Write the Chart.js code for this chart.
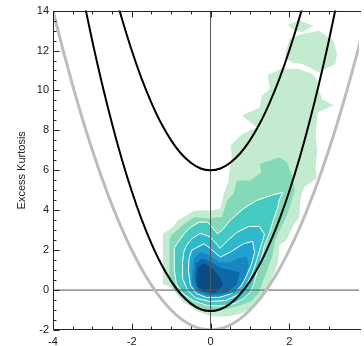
<!DOCTYPE html>
<html><head><meta charset="utf-8">
<script src="https://cdn.jsdelivr.net/npm/chart.js@4.4.0/dist/chart.umd.min.js"></script>
<style>html,body{margin:0;padding:0;background:#fff;}canvas{display:block;}</style>
</head><body>
<canvas id="c" width="364" height="346"></canvas>
<script>
// ---- axes / ticks ----
const xMajorTicks = [-4, -2, 0, 2];
const yMajorTicks = [-2, 0, 2, 4, 6, 8, 10, 12, 14];
const minorStep = 0.5;

// ---- reference curves ----
const grayX = [-4,-3.75,-3.5,-3.25,-3,-2.75,-2.5,-2.25,-2,-1.75,-1.5,-1.25,-1,-0.75,-0.5,-0.25,0,0.25,0.5,0.75,1,1.25,1.5,1.75,2,2.25,2.5,2.75,3,3.25,3.5,3.75,4];
const grayY = [14,12.06,10.25,8.56,7,5.56,4.25,3.06,2,1.06,0.25,-0.44,-1,-1.44,-1.75,-1.94,-2,-1.94,-1.75,-1.44,-1,-0.44,0.25,1.06,2,3.06,4.25,5.56,7,8.56,10.25,12.06,14];
const innerX = [-3.25,-3,-2.75,-2.5,-2.25,-2,-1.75,-1.5,-1.25,-1,-0.75,-0.5,-0.25,0,0.25,0.5,0.75,1,1.25,1.5,1.75,2,2.25,2.5,2.75,3,3.25];
const innerY = [14.8,12.45,10.3,8.33,6.54,4.95,3.54,2.33,1.29,0.45,-0.21,-0.68,-0.96,-1.05,-0.96,-0.68,-0.21,0.45,1.29,2.33,3.54,4.95,6.54,8.33,10.3,12.45,14.8];
const outerX = [-2.5,-2.25,-2,-1.75,-1.5,-1.25,-1,-0.75,-0.5,-0.25,0,0.25,0.5,0.75,1,1.25,1.5,1.75,2,2.25,2.5];
const outerY = [15.38,13.59,12,10.59,9.38,8.34,7.5,6.84,6.38,6.09,6,6.09,6.38,6.84,7.5,8.34,9.38,10.59,12,13.59,15.38];
const zeroV = [[0,-2],[0,14]];
const zeroH = [[-4,0],[3.8,0]];

// ---- density contours (polygons) ----
const lvl1a = [[1.97,13.29],[2.25,13.52],[2.6,13.24],[2.34,12.93],[2.08,13.07]];
const lvl1b = [[1.90,11.82],[2.0,12.57],[2.25,12.79],[2.75,12.99],[3.125,12.49],[3.21,11.82],[3.17,11.32],[2.75,10.9],[2.335,11.32],[2.085,11.4],[1.90,11.65]];
const lvl1c = [[1.46,10.79],[1.79,11.07],[2.25,11.07],[2.585,10.82],[2.71,10.49],[2.75,9.99],[2.835,9.57],[3.12,9.26],[2.72,8.89],[2.67,7.84],[2.705,6.99],[2.67,6.14],[2.69,5.59],[2.385,5.17],[2.29,4.65],[2.25,3.65],[2.125,3.32],[1.92,2.49],[1.75,2.24],[1.71,1.32],[1.59,0.74],[1.47,0.09],[1.29,-0.47],[1.07,-0.87],[0.79,-1.17],[0.42,-1.32],[0.04,-1.32],[-0.33,-1.07],[-0.71,-0.57],[-1.0,0.14],[-1.21,0.29],[-1.21,2.84],[-0.96,3.15],[-0.83,3.49],[-0.415,3.99],[0.0,3.99],[0.25,4.07],[0.335,4.82],[0.46,5.49],[0.47,5.84],[0.54,6.64],[0.51,7.24],[0.80,7.82],[1.175,8.15],[0.80,8.74],[1.25,9.15],[1.30,9.74],[1.51,10.07],[1.47,10.57]];
const lvl2 = [[1.25,6.32],[1.76,6.65],[1.94,6.39],[2.085,5.65],[2.14,4.99],[2.085,4.65],[2.04,4.32],[1.92,3.65],[1.75,2.99],[1.64,2.49],[1.57,1.69],[1.44,0.99],[1.32,0.39],[1.22,-0.17],[1.02,-0.57],[0.67,-0.82],[0.29,-0.99],[-0.08,-0.99],[-0.46,-0.74],[-0.76,-0.34],[-0.96,0.11],[-1.045,0.49],[-1.045,2.49],[-1.0,2.74],[-0.665,3.32],[-0.415,3.65],[0.0,3.57],[0.125,3.65],[0.29,3.65],[0.42,4.49],[0.585,4.82],[0.67,5.49],[1.0,5.49],[1.29,5.9]];
const lvl3 = [[1.835,4.90],[1.74,4.49],[1.71,4.15],[1.59,3.49],[1.5,2.89],[1.37,2.24],[1.29,1.59],[1.19,0.99],[1.12,0.44],[1.02,-0.07],[0.84,-0.42],[0.62,-0.67],[0.29,-0.79],[-0.08,-0.77],[-0.43,-0.54],[-0.71,-0.17],[-0.87,0.34],[-0.92,0.99],[-0.92,2.13],[-0.67,2.82],[-0.5,3.15],[-0.29,3.4],[-0.08,3.4],[0.04,3.15],[0.17,2.82],[0.29,2.99],[0.5,3.49],[0.83,4.07],[1.17,4.49],[1.54,4.74]];
const lvl4 = [[-0.71,1.39],[-0.68,1.89],[-0.61,2.24],[-0.46,2.59],[-0.26,2.84],[-0.04,2.69],[0.12,2.39],[0.24,2.09],[0.44,2.49],[0.67,2.89],[0.97,3.19],[1.24,3.19],[1.37,2.79],[1.27,2.14],[1.17,1.49],[1.07,0.89],[0.92,0.29],[0.77,-0.17],[0.39,-0.52],[-0.03,-0.57],[-0.38,-0.39],[-0.58,-0.02],[-0.70,0.54]];
const lvl5 = [[-0.56,0.99],[-0.545,1.59],[-0.48,1.99],[-0.33,2.15],[-0.165,2.32],[0,2.07],[0.25,1.65],[0.5,1.9],[0.835,2.32],[1.07,2.44],[1.12,1.89],[1.04,1.29],[0.92,0.74],[0.77,0.19],[0.54,-0.17],[0.22,-0.37],[-0.11,-0.37],[-0.36,-0.17],[-0.51,0.24]];
const lvl6 = [[-0.46,0.99],[-0.41,1.59],[-0.26,1.89],[-0.03,1.74],[0.22,1.39],[0.47,1.39],[0.72,1.59],[0.92,1.69],[0.97,1.19],[0.84,0.49],[0.62,-0.12],[0.29,-0.27],[-0.08,-0.27],[-0.36,-0.07],[-0.48,0.34]];
const lvl7 = [[-0.41,0.74],[-0.36,1.34],[-0.21,1.59],[0.02,1.39],[0.27,1.09],[0.54,0.99],[0.74,0.89],[0.67,0.29],[0.42,-0.12],[0.04,-0.22],[-0.26,-0.07],[-0.38,0.24]];
const lvl8 = [[-0.36,0.59],[-0.31,1.14],[-0.16,1.34],[0.04,1.09],[0.22,0.69],[0.32,0.24],[0.12,-0.12],[-0.18,-0.07],[-0.33,0.19]];

const levelColors = ['#c3ebcf','#84d9b9','#45c9c0','#2fbacb','#22a0d0','#1687c2','#0f69a6','#0a4c88'];

const xy = (xs, ys) => xs.map((v, i) => ({x: v, y: ys[i]}));
const poly = a => a.concat([a[0]]).map(p => ({x: p[0], y: p[1]}));

function curve(data, color, width) {
  return {data, showLine: true, borderColor: color, borderWidth: width, pointRadius: 0,
          fill: false, cubicInterpolationMode: 'monotone', clip: 0};
}
function area(pts, color, outline) {
  return {data: poly(pts), showLine: true, pointRadius: 0, fill: 'shape', tension: 0,
          backgroundColor: color,
          borderColor: outline ? '#ffffff' : 'rgba(0,0,0,0)', borderWidth: outline ? 1 : 0, clip: 0};
}
function straight(pts, color) {
  return {data: pts.map(p => ({x: p[0], y: p[1]})), showLine: true, pointRadius: 0, fill: false,
          borderColor: color, borderWidth: 1, tension: 0, clip: 0};
}

// first dataset is drawn on top
const datasets = [
  curve(xy(outerX, outerY), '#000000', 2),
  curve(xy(innerX, innerY), '#000000', 2),
  curve(xy(grayX, grayY), '#bdbdbd', 3),
  straight(zeroV, '#555555'),
  straight(zeroH, '#555555'),
  area(lvl8, levelColors[7], false),
  area(lvl7, levelColors[6], false),
  area(lvl6, levelColors[5], false),
  area(lvl5, levelColors[4], true),
  area(lvl4, levelColors[3], true),
  area(lvl3, levelColors[2], true),
  area(lvl2, levelColors[1], false),
  area(lvl1c, levelColors[0], false),
  area(lvl1b, levelColors[0], false),
  area(lvl1a, levelColors[0], false)
];

const isStep = v => Math.abs(v / minorStep - Math.round(v / minorStep)) < 1e-6;

const framePlugin = {
  id: 'frame',
  afterDatasetsDraw(chart) {
    const {ctx, chartArea: a, scales: {x, y}} = chart;
    ctx.save();
    ctx.strokeStyle = '#222';
    ctx.lineWidth = 1;
    const L = Math.round(a.left) + 0.5, T = Math.round(a.top) + 0.5, B = Math.round(a.bottom) - 0.5, R = a.right + 2;
    ctx.beginPath();
    ctx.moveTo(R, T); ctx.lineTo(L, T); ctx.lineTo(L, B); ctx.lineTo(R, B);
    x.ticks.forEach(t => {
      const v = t.value; if (!isStep(v)) return;
      const px = Math.round(x.getPixelForValue(v)) + 0.5;
      const len = xMajorTicks.includes(v) ? 6 : 3;
      ctx.moveTo(px, B); ctx.lineTo(px, B - len);
      ctx.moveTo(px, T); ctx.lineTo(px, T + len);
    });
    y.ticks.forEach(t => {
      const v = t.value; if (!isStep(v)) return;
      const py = Math.round(y.getPixelForValue(v)) + 0.5;
      const len = yMajorTicks.includes(v) ? 6 : 3;
      ctx.moveTo(L, py); ctx.lineTo(L + len, py);
    });
    ctx.stroke();
    ctx.restore();
  }
};

const font = {family: "'Liberation Sans', Arial, sans-serif", size: 11};

new Chart(document.getElementById('c'), {
  type: 'scatter',
  data: {datasets},
  options: {
    responsive: false, animation: false, devicePixelRatio: 1,
    layout: {padding: {top: 10, right: 0, bottom: 0, left: 0}},
    plugins: {legend: {display: false}, tooltip: {enabled: false}},
    scales: {
      x: {
        type: 'linear', min: -4, max: 3.77,
        grid: {display: false, drawTicks: false}, border: {display: false},
        ticks: {stepSize: minorStep, autoSkip: false, maxRotation: 0, padding: 5, color: '#222', font,
                callback: v => xMajorTicks.includes(v) ? String(v) : ''},
        afterFit: s => { s.height = 16; }
      },
      y: {
        type: 'linear', min: -2, max: 14,
        grid: {display: false, drawTicks: false}, border: {display: false},
        title: {display: true, text: 'Excess Kurtosis', color: '#222', font, padding: {top: 15, bottom: 0}},
        ticks: {stepSize: minorStep, autoSkip: false, padding: 4, color: '#222', font,
                callback: v => yMajorTicks.includes(v) ? String(v) : ''},
        afterFit: s => { s.width = 53; }
      }
    }
  },
  plugins: [framePlugin]
});
</script>
</body></html>
